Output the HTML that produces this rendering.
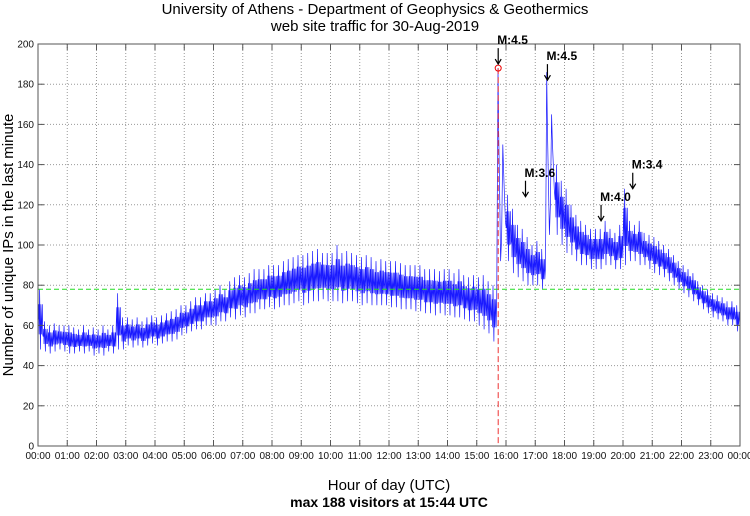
<!DOCTYPE html>
<html><head><meta charset="utf-8"><style>
body{margin:0;background:#fff;}
svg text{font-family:"Liberation Sans",sans-serif;}
</style></head><body>
<svg width="750" height="511" viewBox="0 0 750 511">
<g id="grid"></g>
<g id="series"></g>
<g id="axes"></g>
<g id="ann"></g>
</svg>
<script>
const hours=["00:00","01:00","02:00","03:00","04:00","05:00","06:00","07:00","08:00","09:00","10:00","11:00","12:00","13:00","14:00","15:00","16:00","17:00","18:00","19:00","20:00","21:00","22:00","23:00","00:00"];
const yTicks=[0,20,40,60,80,100,120,140,160,180,200];
const binLo=[48,47,46,47,48,47, 46,46,47,46,47,45, 46,45,47,46,48,48, 50,49,50,49,50,51, 50,51,52,52,53,55, 56,57,58,58,60,60,
60,62,62,64,63,65, 64,66,66,68,68,69, 68,69,70,70,71,72, 70,71,72,72,73,72, 72,72,71,72,72,71, 70,71,70,70,70,70,
69,69,68,68,68,67, 67,66,66,65,66,65, 65,64,64,63,62,62, 60,58,56,52,60,98, 92,86,84,82,80,80, 80,78,78,115,105,100,
96,95,92,90,90,88, 88,88,90,90,88,88, 90,92,92,90,90,88, 86,85,84,82,80,78, 76,74,72,70,68,66, 64,63,62,60,60,57];
const binHi=[78,62,60,61,60,60, 60,59,58,60,58,59, 58,60,58,60,76,64, 64,63,64,62,64,65, 64,65,66,67,68,70, 70,72,74,74,76,76,
78,80,78,82,84,85, 84,86,88,88,88,90, 90,90,92,93,94,95, 95,96,97,98,96,96, 96,100,96,97,96,95, 94,95,94,92,93,92,
92,92,91,90,90,90, 90,88,88,88,87,88, 88,86,88,85,84,85, 84,85,82,80,188,150, 125,118,110,108,104,100, 102,98,186,165,140,132,
128,120,115,112,110,108, 108,108,112,108,106,110, 128,112,110,112,106,105, 104,102,100,98,95,92, 90,88,86,82,80,78, 76,75,74,72,72,70];
const avgLine=78, maxVal=188, maxMin=944;
const quakes=[{t:944,label:"M:4.5",v:190},{t:1045,label:"M:4.5",v:182},{t:1000,label:"M:3.6",v:124},{t:1155,label:"M:4.0",v:112},{t:1220,label:"M:3.4",v:128}];
const L=38,R=740,T=44,B=446;
const X=t=>L+t/1440*(R-L), Y=v=>B-v/200*(B-T);
const NS="http://www.w3.org/2000/svg";
function mk(tag,at,parent,txt){const e=document.createElementNS(NS,tag);for(const k in at)e.setAttribute(k,at[k]);if(txt!==undefined)e.textContent=txt;document.getElementById(parent).appendChild(e);return e;}
hours.forEach((h,i)=>{const x=X(i*60);
 if(i>0&&i<24){const g=mk("line",{x1:x,x2:x,y1:T,y2:B,stroke:"#999","stroke-dasharray":"1,2"},"grid");
 
 }
 mk("line",{x1:x,x2:x,y1:B,y2:B-6,stroke:"#555"},"axes");
 mk("line",{x1:x,x2:x,y1:T,y2:T+6,stroke:"#555"},"axes");
 const lb=mk("text",{x:x,y:459,"font-size":"10","text-anchor":"middle",fill:"#111"},"axes",h);
 
 
});
yTicks.forEach(v=>{const y=Y(v);
 if(v>0&&v<200){const g=mk("line",{x1:L,x2:R,y1:y,y2:y,stroke:"#999","stroke-dasharray":"1,2"},"grid");
 
 }
 mk("line",{x1:L,x2:L+6,y1:y,y2:y,stroke:"#555"},"axes");
 mk("line",{x1:R,x2:R-6,y1:y,y2:y,stroke:"#555"},"axes");
 const lb=mk("text",{x:34,y:y+3.5,"font-size":"10","text-anchor":"end",fill:"#111"},"axes",v);
 
 
});
const frame=mk("rect",{x:L,y:T,width:R-L,height:B-T,fill:"none",stroke:"#555"},"axes");


let pts=[];
binLo.forEach((lo,i)=>{const t0=i*10,hi=binHi[i],m=(lo+hi)/2;
 const q1=(lo+m)/2,q3=(hi+m)/2;
 if(hi-lo>40){pts.push([t0+1,lo+(hi-lo)*0.1],[t0+3.5,hi],[t0+5,q3],[t0+7,m],[t0+9,q1]);}
 else pts.push([t0+0.7,m],[t0+1.6,q3],[t0+2.4,q1],[t0+3.3,hi],[t0+4.2,m],[t0+5.1,lo],[t0+6,q3],[t0+7,q1],[t0+7.9,m],[t0+8.8,q3],[t0+9.6,q1]);});
const pl=mk("polyline",{points:pts.map(p=>X(p[0]).toFixed(1)+","+Y(p[1]).toFixed(1)).join(" "),fill:"none",stroke:"#1a1aff","stroke-width":"0.7"},"series");


const av=mk("line",{x1:L,x2:R,y1:Y(avgLine),y2:Y(avgLine),stroke:"#22dd22","stroke-dasharray":"5,3"},"series");


const mx=mk("line",{x1:X(maxMin),x2:X(maxMin),y1:Y(maxVal),y2:B,stroke:"#ee3333","stroke-dasharray":"6,3"},"series");


const mc=mk("circle",{cx:X(maxMin),cy:Y(maxVal),r:3,fill:"none",stroke:"#ee0000"},"series");


quakes.forEach(q=>{const x=X(q.t),y=Y(q.v);
 const a=mk("path",{d:`M${x},${y-16}V${y}M${x-3},${y-5}L${x},${y}L${x+3},${y-5}`,fill:"none",stroke:"#000","stroke-width":"1.2"},"ann");
 
 
 const l=mk("text",{x:x-1,y:y-20,"font-size":"12","font-weight":"bold",fill:"#000"},"ann",q.label);
 
 
});
</script>
<svg style="position:absolute;left:0;top:0" width="750" height="511">
<text x="375" y="14" font-size="15" text-anchor="middle">University of Athens - Department of Geophysics &amp; Geothermics</text>
<text x="375" y="31" font-size="15" text-anchor="middle">web site traffic for 30-Aug-2019</text>
<text x="389" y="490" font-size="15" text-anchor="middle">Hour of day (UTC)</text>
<text x="389" y="507" font-size="14" font-weight="bold" text-anchor="middle">max 188 visitors at 15:44 UTC</text>
<text transform="translate(13,245) rotate(-90)" font-size="15" text-anchor="middle">Number of unique IPs in the last minute</text>
</svg>
</body></html>
